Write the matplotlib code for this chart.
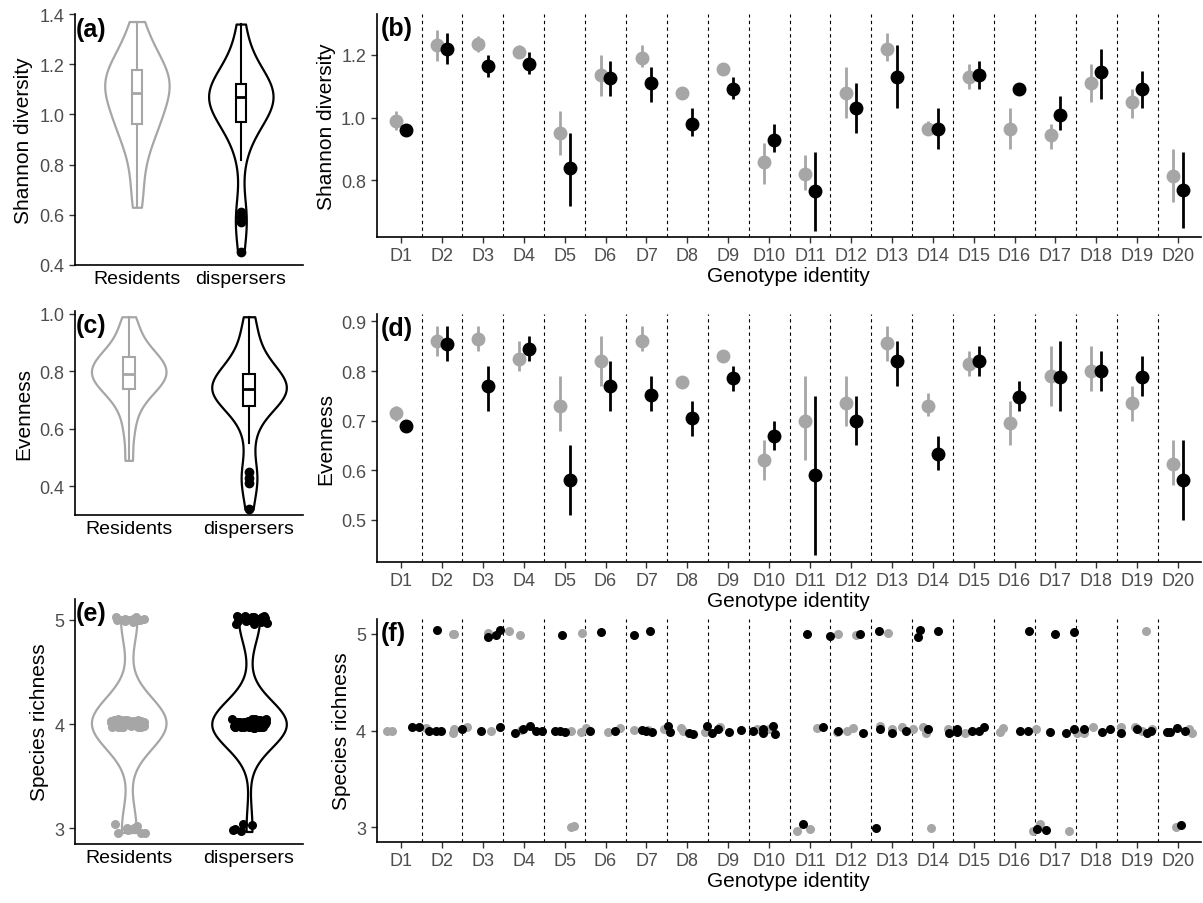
import matplotlib.pyplot as plt
import numpy as np

plt.rcParams['font.family'] = ['Liberation Sans', 'DejaVu Sans']

GRAY = '#a6a6a6'
BLACK = '#000000'
TICK = '#4d4d4d'

genotypes = [f"D{i}" for i in range(1, 21)]

# Shannon diversity per genotype: mean, low, high
sh_res = [0.99, 1.23, 1.235, 1.21, 0.95, 1.135, 1.19, 1.08, 1.155, 0.86,
          0.82, 1.08, 1.22, 0.965, 1.13, 0.965, 0.945, 1.11, 1.05, 0.815]
sh_res_lo = [0.96, 1.18, 1.21, 1.19, 0.88, 1.07, 1.16, 1.075, 1.14, 0.79,
             0.77, 1.00, 1.18, 0.95, 1.09, 0.90, 0.90, 1.05, 1.00, 0.73]
sh_res_hi = [1.02, 1.28, 1.26, 1.23, 1.02, 1.20, 1.23, 1.085, 1.17, 0.92,
             0.88, 1.16, 1.27, 0.99, 1.17, 1.03, 0.98, 1.17, 1.09, 0.90]
sh_dis = [0.96, 1.22, 1.165, 1.17, 0.84, 1.125, 1.11, 0.98, 1.09, 0.93,
          0.765, 1.03, 1.13, 0.965, 1.135, 1.09, 1.01, 1.145, 1.09, 0.77]
sh_dis_lo = [0.95, 1.17, 1.13, 1.14, 0.72, 1.07, 1.05, 0.94, 1.06, 0.89,
             0.64, 0.95, 1.03, 0.90, 1.09, 1.085, 0.96, 1.06, 1.03, 0.65]
sh_dis_hi = [0.97, 1.27, 1.20, 1.21, 0.95, 1.18, 1.16, 1.03, 1.13, 0.98,
             0.89, 1.11, 1.23, 1.03, 1.18, 1.095, 1.07, 1.22, 1.15, 0.89]

# Evenness per genotype
ev_res = [0.715, 0.86, 0.865, 0.825, 0.73, 0.82, 0.86, 0.778, 0.83, 0.62,
          0.70, 0.735, 0.856, 0.73, 0.815, 0.695, 0.79, 0.80, 0.735, 0.612]
ev_res_lo = [0.70, 0.83, 0.84, 0.80, 0.68, 0.77, 0.84, 0.773, 0.82, 0.58,
             0.62, 0.69, 0.82, 0.71, 0.79, 0.65, 0.73, 0.76, 0.70, 0.57]
ev_res_hi = [0.73, 0.89, 0.89, 0.86, 0.79, 0.87, 0.89, 0.783, 0.84, 0.66,
             0.79, 0.79, 0.89, 0.755, 0.84, 0.74, 0.85, 0.85, 0.77, 0.66]
ev_dis = [0.69, 0.855, 0.77, 0.845, 0.58, 0.77, 0.752, 0.706, 0.786, 0.67,
          0.59, 0.70, 0.82, 0.633, 0.82, 0.748, 0.788, 0.80, 0.787, 0.58]
ev_dis_lo = [0.685, 0.82, 0.72, 0.82, 0.51, 0.72, 0.72, 0.67, 0.76, 0.64,
             0.43, 0.65, 0.77, 0.60, 0.79, 0.72, 0.72, 0.76, 0.75, 0.50]
ev_dis_hi = [0.695, 0.89, 0.81, 0.87, 0.65, 0.82, 0.79, 0.74, 0.81, 0.70,
             0.75, 0.75, 0.86, 0.67, 0.85, 0.78, 0.86, 0.84, 0.83, 0.66]

# individual-level values for the violins
sh_res_all = [0.63, 0.70, 0.78, 0.84, 0.88, 0.91, 0.94, 0.96, 0.97, 0.99, 1.01,
              1.03, 1.05, 1.07, 1.08, 1.09, 1.10, 1.12, 1.13, 1.14, 1.15, 1.16,
              1.18, 1.19, 1.21, 1.23, 1.25, 1.28, 1.32, 1.37]
sh_dis_all = [0.45, 0.57, 0.59, 0.61, 0.82, 0.90, 0.94, 0.96, 0.97, 0.98, 1.00,
              1.02, 1.03, 1.04, 1.05, 1.06, 1.07, 1.07, 1.07, 1.08, 1.08, 1.09,
              1.10, 1.11, 1.12, 1.13, 1.14, 1.15, 1.17, 1.20, 1.24, 1.30, 1.36]
ev_res_all = [0.49, 0.58, 0.64, 0.68, 0.71, 0.72, 0.74, 0.75, 0.76, 0.77, 0.78,
              0.79, 0.79, 0.80, 0.81, 0.82, 0.83, 0.84, 0.85, 0.86, 0.87, 0.89,
              0.92, 0.95, 0.99]
ev_dis_all = [0.32, 0.41, 0.43, 0.45, 0.55, 0.62, 0.66, 0.68, 0.69, 0.70, 0.71,
              0.72, 0.73, 0.73, 0.74, 0.74, 0.75, 0.75, 0.76, 0.77, 0.78, 0.79,
              0.80, 0.82, 0.84, 0.86, 0.90, 0.95, 0.99]

# species richness points (jittered position on genotype axis, value)
rich_res_x = [2.27, 2.3, 3.13, 3.64, 3.9, 5.42, 11.68, 12.12, 12.9, 19.21,
              5.22, 5.16, 10.69, 10.99, 13.95, 16.44, 16.62, 17.34, 19.96,
              0.66, 0.78, 1.62, 2.27, 2.30, 2.61, 3.2, 3.94, 5.16, 5.4, 5.51,
              6.06, 6.35, 6.69, 7.04, 7.43, 7.84, 7.9, 8.43, 8.79, 9.7, 10.0,
              11.16, 11.65, 11.91, 12.04, 12.71, 13.01, 13.25, 13.51, 13.75,
              13.84, 14.38, 14.79, 15.65, 15.71, 16.52, 17.53, 17.71, 17.91,
              18.6, 18.95, 19.12, 19.35, 20.26, 20.35]
rich_res_y = [5.0, 5.0, 5.01, 5.03, 4.99, 5.01, 5.0, 4.98, 5.01, 5.03,
              3.02, 3.0, 2.96, 2.98, 2.99, 2.96, 3.04, 2.96, 3.0,
              4.0, 3.99, 4.03, 3.97, 4.02, 4.04, 4.0, 4.01, 4.0, 3.98, 4.03,
              3.98, 4.03, 4.01, 4.01, 4.02, 4.03, 4.0, 3.98, 4.04, 4.02, 4.02,
              4.03, 3.98, 4.0, 4.03, 4.05, 4.02, 4.04, 4.02, 4.04,
              3.97, 4.02, 3.97, 3.98, 4.03, 4.02, 3.97, 3.97, 4.04,
              4.04, 4.04, 3.99, 4.02, 4.02, 3.97]
rich_dis_x = [1.88, 3.13, 3.32, 3.42, 4.93, 5.88, 6.7, 7.08, 10.92, 11.49,
              12.22, 12.69, 13.68, 13.65, 14.14, 16.36, 17.0, 17.45,
              10.82, 12.62, 16.56, 16.78, 20.07,
              1.26, 1.45, 1.68, 1.86, 1.97, 2.48, 2.96, 3.43, 3.78, 3.97, 4.16,
              4.29, 4.45, 4.77, 4.88, 5.01, 5.61, 6.22, 6.88, 6.99, 7.13, 7.53,
              7.57, 8.03, 8.13, 8.48, 8.61, 8.74, 9.03, 9.31, 9.6, 9.86, 9.86,
              10.09, 10.14, 11.31, 11.68, 12.3, 12.7, 13.01, 13.34, 13.88,
              14.39, 14.6, 14.6, 14.97, 15.13, 15.26, 16.14, 16.32, 16.86,
              17.26, 17.45, 17.69, 18.13, 18.34, 18.6, 19.0, 19.25, 19.34,
              19.74, 19.79, 19.97, 20.16]
rich_dis_y = [5.04, 4.96, 4.98, 5.04, 4.99, 5.02, 4.99, 5.03, 5.0, 4.97,
              5.0, 5.03, 5.04, 4.96, 5.03, 5.03, 5.0, 5.02,
              3.04, 2.99, 2.98, 2.97, 3.03,
              4.04, 4.04, 3.99, 3.99, 4.0, 4.02, 4.0, 4.04, 3.97, 4.02, 4.05,
              3.99, 4.0, 3.99, 4.0, 3.98, 4.0, 4.0, 4.01, 3.99, 3.98, 4.05,
              3.98, 3.97, 3.96, 4.05, 3.97, 4.02, 3.98, 4.01, 3.99, 4.02, 3.97,
              4.05, 3.96, 4.04, 4.0, 3.97, 4.02, 3.97, 3.99, 4.02,
              3.97, 4.02, 3.98, 4.0, 4.0, 4.04, 3.99, 3.99, 3.98,
              3.97, 4.02, 4.02, 3.98, 4.02, 3.97, 4.02, 3.97, 4.0,
              3.98, 3.98, 4.03, 4.0]

fig = plt.figure(figsize=(12.03, 9.04), dpi=100)
lx, lw = 0.062, 0.19
rx, rw = 0.313, 0.685
ax_a = fig.add_axes([lx, 1 - 266 / 904, lw, 251 / 904])
ax_b = fig.add_axes([rx, 1 - 238 / 904, rw, 223 / 904])
ax_c = fig.add_axes([lx, 1 - 516 / 904, lw, 204 / 904])
ax_d = fig.add_axes([rx, 1 - 563 / 904, rw, 248 / 904])
ax_e = fig.add_axes([lx, 1 - 845 / 904, lw, 245 / 904])
ax_f = fig.add_axes([rx, 1 - 843 / 904, rw, 223 / 904])


def style(ax):
    for s in ['top', 'right']:
        ax.spines[s].set_visible(False)
    for s in ['left', 'bottom']:
        ax.spines[s].set_linewidth(1.2)
    ax.tick_params(labelsize=13, colors=TICK, width=1.0, length=4)
    ax.tick_params(axis='both', color='#333333')


def violin(ax, res, dis, lab_text, bw=0.45, dis_whis=(12, 100)):
    for pos, data, col, whis in [(1, res, GRAY, (0, 100)),
                                 (2, dis, BLACK, dis_whis)]:
        vp = ax.violinplot([data], positions=[pos], widths=0.62,
                           showextrema=False, bw_method=bw)
        for b in vp['bodies']:
            b.set_facecolor('white')
            b.set_edgecolor(col)
            b.set_linewidth(1.6)
            b.set_alpha(1)
        ax.boxplot([data], positions=[pos], widths=0.1, patch_artist=True,
                   whis=whis,
                   boxprops=dict(facecolor='white', edgecolor=col, lw=1.5),
                   medianprops=dict(color=col, lw=2),
                   whiskerprops=dict(color=col, lw=1.5),
                   capprops=dict(lw=0),
                   flierprops=dict(marker='o', markerfacecolor=col,
                                   markeredgecolor=col, markersize=6))
    ax.set_xlim(0.4, 2.6)
    ax.set_xticks([1, 2])
    ax.set_xticklabels(lab_text)
    style(ax)
    ax.tick_params(axis='x', length=0, colors='black', labelsize=14)


def genotype_panel(ax, r, rlo, rhi, d, dlo, dhi):
    x = np.arange(1, 21)
    for xx, m, lo, hi, col in [(x - 0.12, r, rlo, rhi, GRAY),
                               (x + 0.12, d, dlo, dhi, BLACK)]:
        ax.vlines(xx, lo, hi, color=col, lw=2)
        ax.plot(xx, m, 'o', color=col, markersize=9)
    style(ax)


def finish_genotype(ax):
    for v in np.arange(1.5, 20, 1):
        ax.axvline(v, color='black', ls=(0, (3, 3)), lw=0.8)
    ax.set_xlim(0.4, 20.55)
    ax.set_xticks(np.arange(1, 21))
    ax.set_xticklabels(genotypes)
    ax.set_xlabel('Genotype identity', fontsize=15, labelpad=1)


# (a)
violin(ax_a, sh_res_all, sh_dis_all, ['Residents', 'dispersers'])
ax_a.set_ylim(0.4, 1.4)
ax_a.set_yticks(np.arange(0.4, 1.41, 0.2))
ax_a.set_ylabel('Shannon diversity', fontsize=15)

# (b)
genotype_panel(ax_b, sh_res, sh_res_lo, sh_res_hi, sh_dis, sh_dis_lo, sh_dis_hi)
ax_b.set_ylim(0.62, 1.33)
ax_b.set_yticks([0.8, 1.0, 1.2])
ax_b.set_ylabel('Shannon diversity', fontsize=15)
finish_genotype(ax_b)

# (c)
violin(ax_c, ev_res_all, ev_dis_all, ['Residents', 'dispersers'], bw=0.4,
       dis_whis=(14, 100))
ax_c.set_ylim(0.3, 1.01)
ax_c.set_yticks([0.4, 0.6, 0.8, 1.0])
ax_c.set_xlim(0.55, 2.45)
ax_c.set_ylabel('Evenness', fontsize=15)

# (d)
genotype_panel(ax_d, ev_res, ev_res_lo, ev_res_hi, ev_dis, ev_dis_lo, ev_dis_hi)
ax_d.set_ylim(0.415, 0.915)
ax_d.set_yticks([0.5, 0.6, 0.7, 0.8, 0.9])
ax_d.set_ylabel('Evenness', fontsize=15)
finish_genotype(ax_d)

# (e)
violin(ax_e, rich_res_y, rich_dis_y, ['Residents', 'dispersers'])
for b in ax_e.patches + ax_e.lines:
    b.set_visible(False)
for pos, xs, ys, col in [(1, rich_res_x, rich_res_y, GRAY),
                         (2, rich_dis_x, rich_dis_y, BLACK)]:
    off = (np.array(xs) - np.round(xs)) * 0.3
    ax_e.scatter(pos + off, ys, s=30, color=col, zorder=3)
ax_e.set_xlim(0.55, 2.45)
ax_e.set_ylim(2.85, 5.2)
ax_e.set_yticks([3, 4, 5])
ax_e.set_ylabel('Species richness', fontsize=15)

# (f)
ax_f.scatter(rich_res_x, rich_res_y, s=30, color=GRAY, zorder=3)
ax_f.scatter(rich_dis_x, rich_dis_y, s=30, color=BLACK, zorder=3)
style(ax_f)
ax_f.set_ylim(2.85, 5.15)
ax_f.set_yticks([3, 4, 5])
ax_f.set_ylabel('Species richness', fontsize=15)
finish_genotype(ax_f)

for ax, lab in zip([ax_a, ax_b, ax_c, ax_d, ax_e, ax_f], 'abcdef'):
    ax.text(0.005, 0.99, f'({lab})', transform=ax.transAxes, fontsize=18,
            fontweight='bold', va='top', ha='left')

fig.savefig('out.png', dpi=100)
